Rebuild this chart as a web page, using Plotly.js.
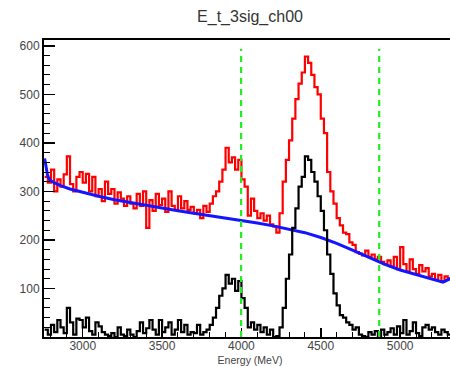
<!DOCTYPE html>
<html>
<head>
<meta charset="utf-8">
<script src="https://cdn.plot.ly/plotly-3.0.1.min.js"></script>
<style>
html,body{margin:0;padding:0;overflow:hidden;background:#fff;}
#chart{width:460px;height:366px;}
</style>
</head>
<body>
<div id="chart"></div>
<script>
// Histogram binning (MeV)
var binStart = 2760;
var binWidth = 20;

// Red histogram: all events (counts per bin)
var redCounts = [
  330,318,345,300,325,310,335,372,315,300,
  330,340,318,336,300,330,290,305,280,320,
  295,305,275,298,285,270,290,275,265,295,
  270,300,225,282,260,295,272,285,258,300,
  270,262,290,265,280,262,268,255,262,245,
  270,258,275,290,300,320,345,390,360,370,
  345,365,325,310,250,285,260,245,255,240,
  250,232,228,215,255,320,365,405,450,490,
  522,545,578,565,540,515,500,450,420,340,
  300,275,245,230,215,212,195,190,175,172,
  168,178,165,170,160,165,155,150,158,145,
  165,140,185,150,135,160,140,130,148,135,
  142,125,130,118,128,115,125,120
];

// Black histogram: selected events (counts per bin)
var blackCounts = [
  15,5,25,10,35,20,8,60,30,5,
  38,35,20,40,12,5,30,22,10,5,
  2,8,0,20,5,2,15,5,0,12,
  30,8,18,35,15,5,35,10,20,30,
  5,15,35,10,25,5,10,8,25,5,
  10,15,25,40,60,85,100,128,110,120,
  95,115,80,60,20,30,15,25,10,20,
  5,15,0,2,20,60,120,170,225,265,
  310,330,372,365,340,320,290,260,220,170,
  130,90,65,45,40,30,25,15,20,5,
  2,0,10,5,12,2,15,5,10,18,
  5,22,8,35,5,12,30,8,2,20,
  25,15,20,10,5,15,10,5
];

// Blue background fit curve (sampled points)
var fitE = [2760,2766,2772,2778,2785,2795,2820,2860,2920,3000,3100,3200,3300,3400,3500,3600,3700,3800,3900,4000,4100,4200,4300,4400,4500,4600,4700,4800,4900,5000,5100,5200,5270,5320];
var fitY = [368,355,343,334,328,323,318,312,305,298,290,283,277,271,266,260,255,250,246,241,235,229,222,215,205,193,179,164,150,138,129,120,113,121];

// Green dashed cut lines (MeV)
var cutLines = [3998, 4868];

function stepXY(counts){
  var xs = [], ys = [];
  for (var i = 0; i < counts.length; i++){
    xs.push(binStart + i*binWidth);
    ys.push(counts[i]);
  }
  xs.push(binStart + counts.length*binWidth);
  ys.push(counts[counts.length-1]);
  return {x: xs, y: ys};
}

var r = stepXY(redCounts);
var b = stepXY(blackCounts);

var traces = [
  {x: r.x, y: r.y, type: 'scatter', mode: 'lines', line: {shape: 'hv', color: '#ff0000', width: 2.2}, hoverinfo: 'skip'},
  {x: fitE, y: fitY, type: 'scatter', mode: 'lines', line: {shape: 'linear', color: '#1414ff', width: 3}, hoverinfo: 'skip'},
  {x: b.x, y: b.y, type: 'scatter', mode: 'lines', line: {shape: 'hv', color: '#000000', width: 2.2}, hoverinfo: 'skip'}
];

var shapes = cutLines.map(function(c){
  return {type: 'line', xref: 'x', yref: 'paper', x0: c, x1: c, y0: 0, y1: 0.97,
          line: {color: '#22ee22', width: 2.2, dash: '6px,5px'}};
});

var layout = {
  width: 460, height: 366,
  margin: {l: 44, r: 4, t: 40, b: 29},
  paper_bgcolor: '#ffffff', plot_bgcolor: '#ffffff',
  showlegend: false,
  font: {family: 'Liberation Sans, Arial, sans-serif', color: '#333'},
  title: {text: 'E_t_3sig_ch00', x: 0.5, xref: 'paper', xanchor: 'center', y: 0.955, yref: 'container', yanchor: 'middle', font: {size: 16, color: '#333'}},
  xaxis: {
    range: [2756, 5352],
    showgrid: false, zeroline: false,
    showline: true, linecolor: '#000', linewidth: 2, mirror: true,
    ticks: 'inside', ticklen: 9, tickwidth: 1.5, tickcolor: '#000',
    dtick: 500, tick0: 0,
    ticklabelstandoff: -3,
    minor: {dtick: 100, ticks: 'inside', ticklen: 5, tickcolor: '#000', tickwidth: 1},
    tickfont: {size: 12, color: '#444'},
    title: {text: 'Energy (MeV)', font: {size: 10.5, color: '#444'}, standoff: 4}
  },
  yaxis: {
    range: [0, 612],
    showgrid: false, zeroline: false,
    showline: true, linecolor: '#000', linewidth: 2, mirror: true,
    ticks: 'inside', ticklen: 11, tickwidth: 1.5, tickcolor: '#000',
    dtick: 100, tick0: 0,
    minor: {dtick: 20, ticks: 'inside', ticklen: 6, tickcolor: '#000', tickwidth: 1},
    tickfont: {size: 12, color: '#444'},
    tickvals: [100,200,300,400,500,600]
  },
  shapes: shapes
};

Plotly.newPlot('chart', traces, layout, {displayModeBar: false, staticPlot: true});
</script>
</body>
</html>
